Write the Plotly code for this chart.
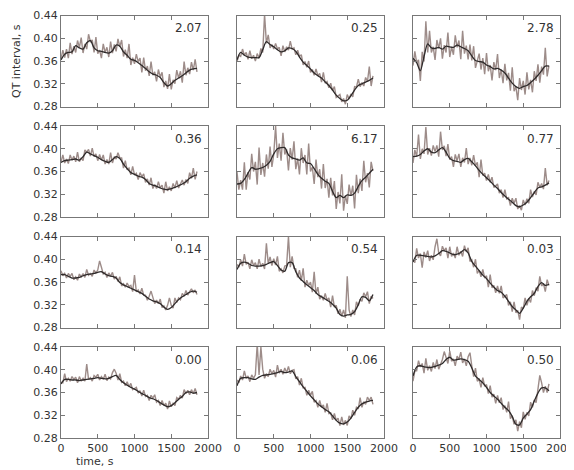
import plotly.graph_objects as go

# sampling grids (seconds)
time_raw = list(range(0, 1851, 25))      # 75 raw samples
time_smooth = list(range(0, 1851, 50))   # 38 smoothed samples

raw_1 = [.364,.379,.366,.381,.365,.392,.372,.386,.375,.396,.384,.401,.374,.390,.381,.407,.394,.397,.375,.402,.373,.379,.365,.390,.375,.384,.367,.394,.374,.389,.377,.399,.385,.397,.368,.380,.365,.390,.353,.366,.355,.372,.359,.365,.340,.366,.343,.351,.334,.359,.335,.341,.324,.345,.332,.340,.314,.325,.311,.337,.310,.327,.320,.344,.330,.342,.322,.359,.335,.348,.337,.358,.344,.363,.341]
raw_2 = [.359,.370,.368,.381,.370,.375,.363,.378,.364,.370,.360,.373,.365,.382,.375,.442,.391,.406,.383,.389,.381,.391,.381,.384,.369,.387,.376,.385,.379,.395,.381,.383,.371,.379,.368,.371,.353,.359,.349,.360,.340,.345,.335,.346,.334,.338,.323,.340,.321,.324,.313,.321,.308,.315,.296,.298,.301,.288,.294,.284,.301,.293,.302,.297,.315,.314,.328,.315,.322,.316,.331,.324,.350,.316,.334]
raw_3 = [.352,.377,.357,.362,.325,.376,.359,.430,.375,.413,.375,.385,.362,.397,.382,.400,.364,.388,.375,.410,.367,.385,.371,.405,.384,.396,.363,.413,.373,.387,.363,.389,.361,.386,.348,.360,.373,.345,.365,.337,.374,.342,.353,.326,.358,.344,.372,.330,.345,.321,.355,.326,.339,.308,.349,.307,.315,.291,.330,.309,.325,.301,.340,.310,.327,.305,.342,.325,.354,.322,.350,.336,.383,.333,.352]
raw_4 = [.377,.389,.375,.382,.374,.389,.380,.387,.377,.394,.377,.384,.379,.398,.394,.399,.387,.401,.386,.391,.379,.390,.380,.389,.373,.381,.373,.393,.375,.386,.382,.393,.384,.384,.366,.379,.363,.366,.354,.369,.354,.357,.346,.358,.351,.356,.341,.347,.336,.349,.330,.337,.330,.342,.331,.336,.322,.342,.326,.333,.326,.339,.331,.344,.331,.338,.345,.336,.346,.339,.358,.348,.366,.346,.360]
raw_5 = [.359,.328,.345,.328,.376,.328,.359,.346,.391,.360,.377,.337,.402,.354,.375,.351,.390,.365,.404,.368,.390,.440,.384,.409,.379,.428,.390,.399,.362,.401,.381,.413,.364,.383,.355,.401,.375,.389,.355,.409,.360,.368,.338,.381,.350,.364,.330,.373,.331,.347,.314,.349,.318,.343,.294,.324,.304,.355,.291,.318,.303,.337,.317,.335,.295,.354,.322,.347,.326,.379,.341,.357,.332,.377,.361]
raw_6 = [.375,.398,.386,.425,.382,.400,.391,.438,.390,.401,.388,.406,.395,.406,.386,.430,.398,.405,.387,.408,.381,.386,.368,.390,.379,.391,.368,.384,.376,.401,.373,.384,.371,.389,.370,.376,.350,.381,.353,.357,.344,.355,.341,.350,.332,.335,.338,.322,.328,.314,.328,.312,.314,.300,.313,.304,.313,.294,.300,.292,.310,.301,.312,.304,.328,.315,.325,.319,.341,.332,.339,.329,.366,.336,.344]
raw_7 = [.380,.371,.375,.367,.375,.370,.375,.364,.369,.363,.374,.369,.375,.368,.382,.372,.375,.370,.381,.376,.381,.397,.386,.374,.377,.368,.376,.370,.377,.365,.370,.361,.369,.353,.357,.351,.358,.352,.354,.343,.372,.343,.346,.339,.349,.337,.337,.328,.335,.344,.333,.322,.328,.322,.330,.315,.318,.311,.319,.332,.319,.314,.332,.324,.332,.329,.340,.335,.345,.337,.343,.348,.341,.346,.338]
raw_8 = [.391,.386,.399,.388,.409,.391,.395,.383,.399,.389,.394,.383,.400,.387,.393,.383,.428,.392,.404,.389,.401,.390,.405,.379,.383,.376,.388,.389,.440,.386,.405,.384,.383,.368,.381,.362,.384,.351,.363,.354,.360,.342,.378,.339,.351,.330,.336,.328,.340,.328,.332,.316,.336,.316,.319,.304,.312,.300,.311,.297,.370,.311,.299,.311,.302,.325,.318,.330,.326,.341,.334,.343,.322,.335,.331]
raw_9 = [.400,.394,.419,.402,.410,.385,.413,.403,.415,.397,.407,.399,.422,.436,.411,.406,.423,.415,.420,.402,.422,.405,.411,.402,.422,.407,.414,.405,.424,.413,.420,.396,.399,.386,.400,.375,.381,.369,.382,.367,.371,.351,.373,.350,.354,.341,.353,.340,.353,.332,.335,.338,.319,.325,.308,.325,.306,.310,.294,.316,.313,.332,.319,.331,.324,.345,.336,.350,.344,.370,.353,.357,.343,.364,.354]
raw_10 = [.378,.377,.393,.379,.385,.380,.388,.383,.387,.377,.388,.380,.385,.380,.410,.383,.386,.380,.390,.387,.392,.382,.388,.383,.392,.381,.387,.384,.395,.401,.394,.382,.393,.378,.380,.372,.379,.370,.376,.365,.367,.369,.359,.363,.354,.364,.353,.355,.346,.355,.350,.356,.343,.346,.337,.346,.337,.341,.331,.345,.335,.341,.337,.351,.348,.355,.350,.365,.358,.364,.356,.365,.358,.367,.356]
raw_11 = [.382,.377,.389,.382,.398,.385,.389,.379,.391,.385,.391,.445,.391,.440,.401,.385,.393,.388,.401,.393,.399,.387,.408,.394,.401,.392,.403,.395,.406,.393,.399,.400,.384,.388,.373,.385,.368,.369,.355,.364,.355,.362,.343,.346,.334,.346,.334,.338,.325,.341,.323,.324,.312,.323,.311,.315,.302,.317,.303,.311,.302,.319,.314,.329,.320,.334,.331,.351,.334,.344,.339,.352,.346,.352,.339]
raw_12 = [.380,.398,.398,.416,.405,.411,.394,.420,.399,.407,.397,.413,.402,.418,.401,.410,.418,.432,.421,.411,.433,.415,.419,.407,.424,.418,.431,.412,.419,.407,.423,.430,.407,.388,.403,.380,.383,.369,.386,.371,.374,.358,.372,.352,.357,.341,.355,.342,.351,.330,.337,.325,.344,.314,.319,.304,.312,.292,.309,.298,.326,.313,.325,.319,.343,.334,.347,.342,.366,.390,.377,.360,.371,.360,.375]

smooth_1 = [.362,.372,.375,.376,.387,.383,.381,.392,.396,.383,.378,.377,.375,.374,.378,.388,.386,.376,.370,.363,.361,.357,.352,.347,.341,.337,.335,.331,.322,.316,.320,.326,.330,.334,.339,.344,.346,.347]
smooth_2 = [.362,.375,.370,.367,.366,.366,.366,.380,.394,.389,.385,.380,.376,.378,.383,.382,.377,.367,.358,.352,.346,.339,.334,.330,.323,.317,.309,.300,.294,.290,.291,.299,.309,.317,.320,.323,.326,.330]
smooth_3 = [.365,.357,.343,.368,.390,.383,.382,.384,.381,.386,.385,.384,.388,.385,.382,.378,.369,.361,.359,.358,.353,.350,.346,.347,.344,.339,.330,.321,.315,.312,.315,.317,.322,.328,.335,.343,.351,.351]
smooth_4 = [.376,.379,.380,.381,.382,.380,.386,.394,.391,.388,.385,.381,.378,.376,.381,.386,.383,.373,.365,.358,.355,.352,.350,.346,.339,.336,.334,.331,.329,.328,.330,.332,.335,.338,.342,.348,.352,.354]
smooth_5 = [.338,.339,.346,.357,.367,.364,.365,.367,.371,.378,.391,.400,.402,.402,.389,.384,.382,.380,.384,.375,.374,.365,.355,.348,.343,.339,.325,.314,.318,.314,.319,.318,.322,.334,.344,.350,.357,.364]
smooth_6 = [.386,.387,.390,.396,.400,.394,.393,.398,.402,.394,.383,.379,.378,.376,.381,.383,.377,.370,.362,.355,.349,.343,.336,.330,.323,.317,.311,.306,.300,.298,.301,.306,.314,.323,.331,.333,.336,.340]
smooth_7 = [.373,.373,.370,.367,.367,.368,.371,.373,.374,.375,.377,.378,.374,.371,.370,.367,.359,.355,.352,.349,.346,.343,.340,.335,.330,.327,.325,.322,.316,.312,.315,.322,.329,.334,.338,.342,.344,.342]
smooth_8 = [.382,.393,.395,.393,.389,.388,.388,.389,.391,.394,.396,.389,.381,.379,.394,.394,.378,.367,.361,.355,.350,.345,.338,.334,.330,.326,.321,.314,.303,.300,.302,.303,.308,.320,.334,.333,.327,.338]
smooth_9 = [.395,.407,.407,.406,.405,.404,.406,.410,.415,.414,.411,.408,.409,.412,.417,.411,.396,.388,.380,.372,.366,.358,.351,.345,.342,.335,.326,.317,.311,.305,.314,.326,.334,.340,.352,.359,.354,.356]
smooth_10 = [.375,.383,.383,.382,.382,.381,.382,.383,.384,.385,.386,.385,.384,.385,.388,.390,.383,.377,.373,.369,.366,.362,.358,.355,.351,.349,.346,.342,.338,.335,.337,.342,.348,.353,.360,.361,.359,.360]
smooth_11 = [.372,.385,.386,.386,.384,.383,.387,.390,.391,.392,.393,.395,.397,.395,.396,.398,.388,.379,.370,.362,.354,.347,.340,.335,.330,.326,.319,.311,.306,.305,.308,.315,.325,.334,.340,.343,.345,.346]
smooth_12 = [.389,.405,.407,.405,.404,.404,.406,.408,.411,.418,.422,.417,.418,.419,.418,.415,.403,.389,.383,.377,.369,.360,.354,.348,.341,.334,.328,.318,.304,.303,.315,.322,.330,.345,.359,.368,.368,.363]

panel_values = ["2.07", "0.25", "2.78", "0.36", "6.17", "0.77",
                "0.14", "0.54", "0.03", "0.00", "0.06", "0.50"]
x_ticks = [0, 500, 1000, 1500, 2000]
y_ticks = [0.28, 0.32, 0.36, 0.40, 0.44]

raws = [raw_1, raw_2, raw_3, raw_4, raw_5, raw_6, raw_7, raw_8, raw_9, raw_10, raw_11, raw_12]
smooths = [smooth_1, smooth_2, smooth_3, smooth_4, smooth_5, smooth_6,
           smooth_7, smooth_8, smooth_9, smooth_10, smooth_11, smooth_12]

# window is 574x470, the page body adds an 8px offset
OFF = 8
W, H = 574 - OFF, 470 - OFF
col_px = [(61, 208), (237, 384), (413, 560)]
row_px = [(15.5, 106.5), (126, 217), (236.5, 327.5), (347, 438)]

FONT = "DejaVu Sans"
AX_COLOR = "#777777"
TXT = "#333333"
RAW_COLOR = "rgba(140,120,116,0.85)"
SMOOTH_COLOR = "#2e2a2a"

fig = go.Figure()
layout = {}
annotations = []
for k in range(12):
    r, c = divmod(k, 3)
    sfx = "" if k == 0 else str(k + 1)
    xa, ya = "x" + sfx, "y" + sfx
    fig.add_trace(go.Scatter(x=time_raw, y=raws[k], mode="lines",
                             line=dict(color=RAW_COLOR, width=1.4),
                             xaxis=xa, yaxis=ya, hoverinfo="skip"))
    fig.add_trace(go.Scatter(x=time_smooth, y=smooths[k], mode="lines",
                             line=dict(color=SMOOTH_COLOR, width=1.3, shape="spline", smoothing=0.8),
                             xaxis=xa, yaxis=ya, hoverinfo="skip"))
    x0, x1 = col_px[c][0] - OFF, col_px[c][1] - OFF
    y0, y1 = row_px[r][0] - OFF, row_px[r][1] - OFF
    common = dict(showline=True, linecolor=AX_COLOR, linewidth=1, mirror="ticks",
                  ticks="inside", ticklen=4, tickwidth=1, tickcolor=AX_COLOR,
                  showgrid=False, zeroline=False, automargin=False,
                  tickfont=dict(family=FONT, size=11, color=TXT))
    layout["xaxis" + sfx] = dict(common, domain=[x0 / W, x1 / W], range=[0, 2000],
                                 tickvals=x_ticks, ticktext=[str(v) for v in x_ticks],
                                 showticklabels=(r == 3), anchor=ya)
    layout["yaxis" + sfx] = dict(common, domain=[1 - y1 / H, 1 - y0 / H], range=[0.28, 0.44],
                                 tickvals=y_ticks, ticktext=["%.2f" % v for v in y_ticks],
                                 showticklabels=(c == 0), anchor=xa)
    annotations.append(dict(x=1950, y=0.418, xref=xa, yref=ya, text=panel_values[k],
                            showarrow=False, xanchor="right", yanchor="middle",
                            font=dict(family=FONT, size=12, color=TXT)))

annotations.append(dict(x=(16 - OFF) / W, y=1 - (61 - OFF) / H, xref="paper", yref="paper",
                        text="QT interval, s", textangle=-90, showarrow=False,
                        xanchor="center", yanchor="middle",
                        font=dict(family=FONT, size=11, color=TXT)))
annotations.append(dict(x=(95 - OFF) / W, y=1 - (461 - OFF) / H, xref="paper", yref="paper",
                        text="time, s", showarrow=False,
                        xanchor="center", yanchor="middle",
                        font=dict(family=FONT, size=11, color=TXT)))

fig.update_layout(width=W, height=H, margin=dict(l=0, r=0, t=0, b=0),
                  paper_bgcolor="white", plot_bgcolor="white",
                  showlegend=False, hovermode=False, annotations=annotations, **layout)

fig.write_html("out.html")
